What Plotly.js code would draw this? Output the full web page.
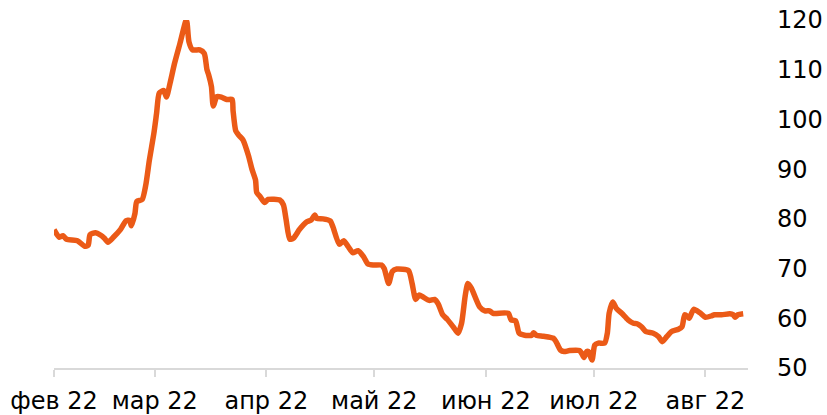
<!DOCTYPE html>
<html>
<head>
<meta charset="utf-8">
<script src="https://cdn.plot.ly/plotly-3.0.1.min.js"></script>
<style>
html, body { margin: 0; padding: 0; background: #fff; }
#chart { width: 827px; height: 415px; }
</style>
</head>
<body>
<div id="chart"></div>
<script>
const dates = [
  "2022-02-01 00:00","2022-02-02 12:00","2022-02-03 12:00","2022-02-04 12:00","2022-02-07 12:00",
  "2022-02-09 12:00","2022-02-10 12:00","2022-02-11 00:00","2022-02-12 12:00","2022-02-14 00:00",
  "2022-02-15 00:00","2022-02-16 00:00","2022-02-17 12:00","2022-02-19 12:00","2022-02-21 00:00",
  "2022-02-22 00:00","2022-02-22 12:00","2022-02-23 12:00","2022-02-24 00:00","2022-02-25 12:00",
  "2022-02-26 12:00","2022-02-27 12:00","2022-02-28 18:00","2022-03-01 12:00","2022-03-02 06:00",
  "2022-03-03 12:00","2022-03-04 06:00","2022-03-05 06:00","2022-03-06 12:00","2022-03-08 00:00",
  "2022-03-09 18:00","2022-03-10 00:00","2022-03-10 12:00","2022-03-11 12:00","2022-03-13 12:00",
  "2022-03-14 18:00","2022-03-15 12:00","2022-03-16 00:00","2022-03-16 18:00","2022-03-17 06:00",
  "2022-03-18 06:00","2022-03-19 12:00","2022-03-21 00:00","2022-03-22 12:00","2022-03-22 18:00",
  "2022-03-23 12:00","2022-03-24 06:00","2022-03-25 12:00","2022-03-27 00:00","2022-03-28 00:00",
  "2022-03-29 00:00","2022-03-29 08:00","2022-03-30 06:00","2022-03-31 12:00","2022-04-01 12:00",
  "2022-04-04 18:00","2022-04-05 18:00","2022-04-06 12:00","2022-04-07 12:00","2022-04-08 12:00",
  "2022-04-10 06:00","2022-04-12 06:00","2022-04-13 12:00","2022-04-14 12:00","2022-04-15 00:00",
  "2022-04-16 18:00","2022-04-18 18:00","2022-04-19 12:00","2022-04-21 06:00","2022-04-22 12:00",
  "2022-04-23 18:00","2022-04-25 00:00","2022-04-26 12:00","2022-04-28 00:00","2022-04-29 06:00",
  "2022-04-30 18:00","2022-05-03 00:00","2022-05-03 18:00","2022-05-05 00:00","2022-05-06 00:00",
  "2022-05-07 06:00","2022-05-10 12:00","2022-05-11 12:00","2022-05-12 12:00","2022-05-13 12:00",
  "2022-05-14 12:00","2022-05-16 06:00","2022-05-17 18:00","2022-05-18 18:00","2022-05-20 00:00",
  "2022-05-21 06:00","2022-05-23 00:00","2022-05-24 06:00","2022-05-25 06:00","2022-05-26 06:00",
  "2022-05-27 00:00","2022-05-28 00:00","2022-05-30 06:00","2022-05-31 18:00","2022-06-02 00:00",
  "2022-06-03 00:00","2022-06-07 06:00","2022-06-08 00:00","2022-06-09 06:00","2022-06-10 06:00",
  "2022-06-11 18:00","2022-06-13 18:00","2022-06-14 06:00","2022-06-15 00:00","2022-06-17 00:00",
  "2022-06-19 18:00","2022-06-20 12:00","2022-06-21 18:00","2022-06-22 18:00","2022-06-24 06:00",
  "2022-06-27 00:00","2022-06-27 12:00","2022-06-28 06:00","2022-06-29 00:00","2022-06-29 12:00",
  "2022-06-30 12:00","2022-07-01 06:00","2022-07-02 06:00","2022-07-04 00:00","2022-07-04 18:00",
  "2022-07-05 06:00","2022-07-06 06:00","2022-07-07 06:00","2022-07-08 18:00","2022-07-10 12:00",
  "2022-07-12 00:00","2022-07-13 00:00","2022-07-14 06:00","2022-07-15 12:00","2022-07-17 12:00",
  "2022-07-19 00:00","2022-07-20 00:00","2022-07-21 06:00","2022-07-22 12:00","2022-07-24 12:00",
  "2022-07-25 12:00","2022-07-26 06:00","2022-07-27 00:00","2022-07-27 12:00","2022-07-28 18:00",
  "2022-07-30 12:00","2022-08-01 00:00","2022-08-02 18:00","2022-08-03 12:00","2022-08-05 12:00",
  "2022-08-07 18:00","2022-08-08 18:00","2022-08-09 06:00","2022-08-10 00:00","2022-08-11 12:00"
];
const rate = [
  77.8,76.3,76.6,75.9,75.6,
  74.5,74.7,76.8,77.2,76.7,
  76.1,75.3,76.3,77.9,79.6,
  79.7,78.6,81.1,83.5,83.9,
  86.8,91.8,97.2,101.2,105.3,
  105.8,104.5,107.3,111.3,115.3,
  120.0,119.3,115.6,114.0,114.0,
  113.3,110.0,108.9,106.6,102.7,
  104.6,104.5,104.0,104.0,101.8,
  97.7,96.9,95.9,92.8,90.0,
  87.8,85.3,84.5,83.3,83.9,
  83.8,82.8,79.8,75.9,76.1,
  77.9,79.4,79.8,80.8,80.1,
  80.0,79.6,78.4,74.9,75.6,
  74.4,73.2,73.6,72.4,70.9,
  70.7,70.7,70.0,67.0,69.4,
  69.9,69.6,67.0,63.8,64.7,
  64.3,63.6,63.8,62.9,60.7,
  59.8,58.2,57.0,59.0,64.5,
  67.0,66.0,62.3,61.5,61.5,
  61.0,61.0,59.7,59.5,57.0,
  56.6,56.6,57.1,56.6,56.4,
  56.0,55.3,53.6,53.3,53.5,
  53.5,53.1,52.1,53.3,53.3,
  51.6,54.6,55.0,55.0,57.0,
  61.0,63.3,62.0,61.0,59.7,
  59.0,58.9,58.3,57.3,57.0,
  56.3,55.3,56.3,57.3,57.8,
  58.3,60.7,60.4,60.0,61.8,
  61.1,60.2,60.5,60.7,60.7,
  60.9,60.7,60.2,60.7,60.9
];
const monthTicks = ["2022-02-01","2022-03-01","2022-04-01","2022-05-01","2022-06-01","2022-07-01","2022-08-01"];
const monthLabels = ["фев 22","мар 22","апр 22","май 22","июн 22","июл 22","авг 22"];
const yTicks = [50,60,70,80,90,100,110,120];

const trace = {
  x: dates, y: rate, type: "scatter", mode: "lines",
  line: { color: "#EB5A17", width: 5.5, shape: "spline", smoothing: 0.6 },
  hoverinfo: "skip"
};
const layout = {
  width: 827, height: 415,
  margin: { l: 54, r: 79, t: 20, b: 47, pad: 0 },
  paper_bgcolor: "#fff", plot_bgcolor: "#fff",
  font: { family: "DejaVu Sans, Verdana, sans-serif", size: 24, color: "#000" },
  showlegend: false,
  xaxis: {
    type: "date", range: ["2022-02-01", "2022-08-12 20:00"],
    tickmode: "array", tickvals: monthTicks, ticktext: monthLabels,
    showgrid: false, zeroline: false,
    showline: true, linecolor: "#d9d9d9", linewidth: 2,
    ticks: "outside", ticklen: 7, tickwidth: 2, tickcolor: "#d9d9d9",
    ticklabelstandoff: 3,
    tickfont: { size: 24, color: "#000" }
  },
  yaxis: {
    side: "right", range: [50, 120],
    tickmode: "array", tickvals: yTicks,
    showgrid: false, zeroline: false, showline: false,
    ticks: "", ticklabelstandoff: 28,
    tickfont: { size: 24, color: "#000" }
  }
};
Plotly.newPlot("chart", [trace], layout, { staticPlot: true, displayModeBar: false });
</script>
</body>
</html>
